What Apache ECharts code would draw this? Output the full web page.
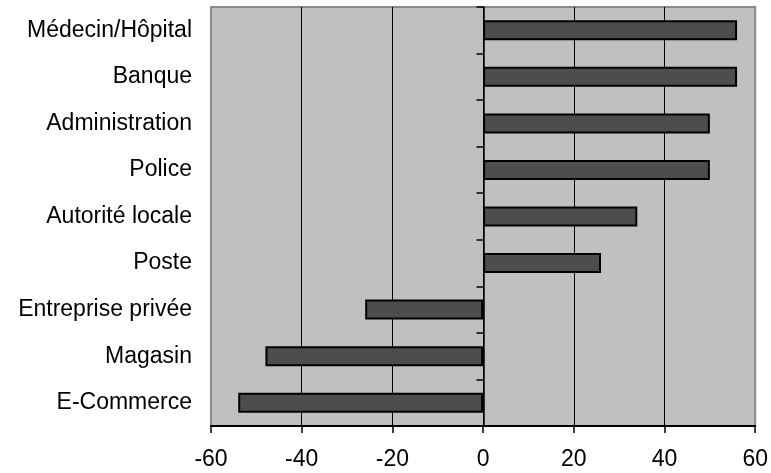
<!DOCTYPE html>
<html>
<head>
<meta charset="utf-8">
<script src="https://cdn.jsdelivr.net/npm/echarts@6/dist/echarts.min.js"></script>
<style>html,body{margin:0;padding:0;background:#fff;}#c{width:771px;height:473px;}</style>
</head>
<body>
<div id="c"></div>
<script>
var categories = ["Médecin/Hôpital", "Banque", "Administration", "Police", "Autorité locale", "Poste", "Entreprise privée", "Magasin", "E-Commerce"];
var values = [56, 56, 50, 50, 34, 26, -26, -48, -54];
var xMin = -60, xMax = 60, xStep = 20;

var font = "'Liberation Sans', Arial, sans-serif";
var chart = echarts.init(document.getElementById('c'));
var gridLeft = 211, gridRight = 15;
var gridWidth = 771 - gridLeft - gridRight;
chart.setOption({
  animation: false,
  backgroundColor: '#ffffff',
  grid: {
    left: gridLeft, right: gridRight, top: 7, bottom: 47,
    show: true, backgroundColor: '#C0C0C0', borderColor: '#8a8a8a', borderWidth: 2
  },
  xAxis: {
    type: 'value', min: xMin, max: xMax, interval: xStep,
    axisLine: { show: true, onZero: false, lineStyle: { color: '#000', width: 2 } },
    axisTick: { show: true, length: 7, lineStyle: { color: '#000', width: 1.5 } },
    axisLabel: { fontFamily: font, fontSize: 23, color: '#000', margin: 22 },
    splitLine: { show: true, showMinLine: false, showMaxLine: false, lineStyle: { color: '#000', width: 1 } }
  },
  yAxis: [
    {
      type: 'category', data: categories, inverse: true,
      axisLine: { show: false }, axisTick: { show: false },
      axisLabel: { fontFamily: font, fontSize: 23, color: '#000', margin: 19 },
      splitLine: { show: false }
    },
    {
      type: 'category', data: categories, inverse: true, position: 'left',
      offset: -gridWidth / 2,
      axisLine: { show: true, onZero: false, lineStyle: { color: '#000', width: 1.5 } },
      axisTick: { show: true, length: 7, lineStyle: { color: '#000', width: 1.5 } },
      axisLabel: { show: false },
      splitLine: { show: false }
    }
  ],
  series: [{
    type: 'bar', data: values, yAxisIndex: 0, barWidth: 20,
    itemStyle: { color: '#4D4D4D', borderColor: '#000', borderWidth: 2 },
    z: 1
  }]
});
</script>
</body>
</html>
